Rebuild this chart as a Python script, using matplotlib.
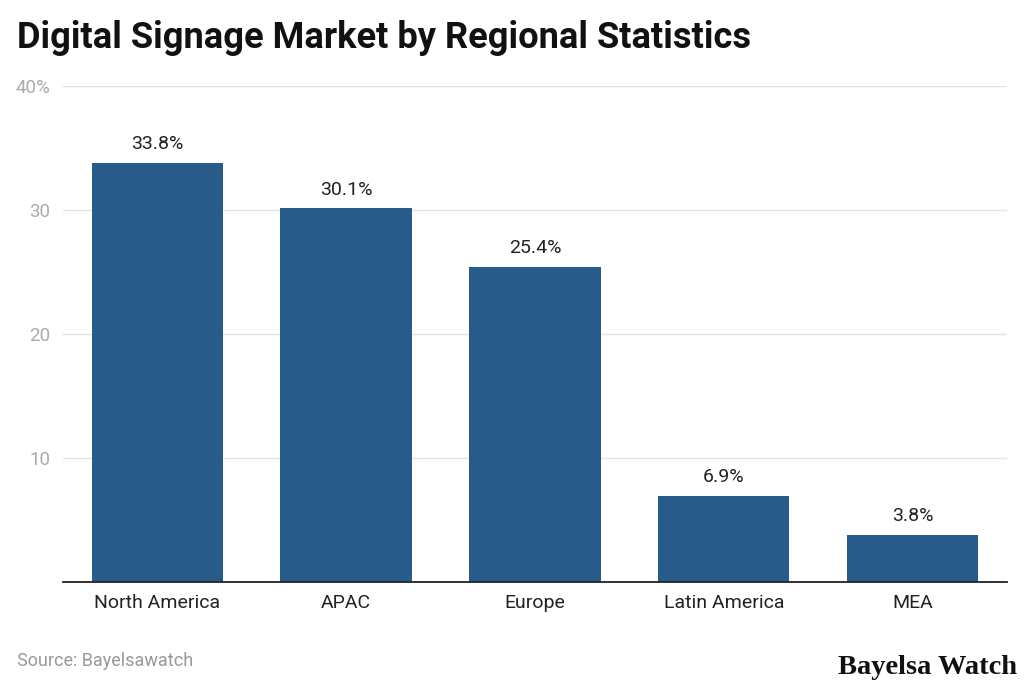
import matplotlib
matplotlib.use("Agg")
import matplotlib.pyplot as plt

categories = ["North America", "APAC", "Europe", "Latin America", "MEA"]
values = [33.8, 30.1, 25.4, 6.9, 3.8]
yticks = [10, 20, 30, 40]
ytick_labels = ["10", "20", "30", "40%"]

plt.rcParams['font.family'] = ['Roboto', 'DejaVu Sans']

fig = plt.figure(figsize=(10.24, 6.89), dpi=100)
ax = fig.add_axes([0.0615, 0.1557, 0.9834 - 0.0615, 0.8756 - 0.1557])

x = list(range(len(categories)))
ax.bar(x, values, width=0.696, color="#275c8a", zorder=3)
for xi, v in zip(x, values):
    ax.annotate(f"{v}%", (xi, v), xytext=(0, 7), textcoords="offset points",
                ha="center", va="bottom", fontsize=14, color="#222222")

ax.set_xlim(-0.5, len(categories) - 0.5)
ax.set_ylim(0, 40)
ax.set_yticks(yticks)
ax.set_yticklabels(ytick_labels)
ax.set_xticks(x)
ax.set_xticklabels(categories)
ax.tick_params(axis="y", length=0, pad=9, labelsize=13.5, labelcolor="#ababab")
ax.tick_params(axis="x", length=0, pad=9, labelsize=14, labelcolor="#222222")
ax.grid(axis="y", color="#e3e3e3", linewidth=1, zorder=0)
for s in ["top", "right", "left"]:
    ax.spines[s].set_visible(False)
ax.spines["bottom"].set_color("#222222")
ax.spines["bottom"].set_linewidth(1.3)
ax.spines["bottom"].set_zorder(4)

fig.text(17 / 1024, 1 - 38 / 689, "Digital Signage Market by Regional Statistics",
         fontsize=26.1, fontweight="bold", color="#111111", va="center", ha="left")
fig.text(17 / 1024, 1 - 661 / 689, "Source: Bayelsawatch", fontsize=13,
         color="#999999", va="center", ha="left")
fig.text(1017 / 1024, 1 - 668 / 689, "Bayelsa Watch", fontsize=20.5, fontweight="bold",
         family=["Liberation Serif", "DejaVu Serif"], color="#111111", va="center", ha="right")

fig.savefig("out.png", dpi=100)
